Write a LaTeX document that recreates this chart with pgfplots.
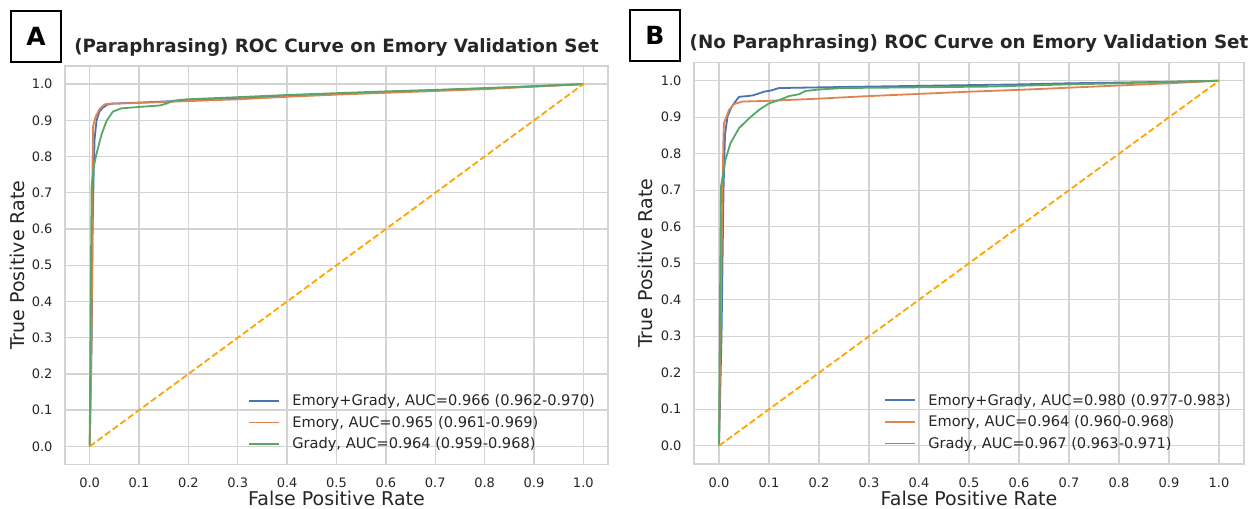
\documentclass[border=0pt]{standalone}
\usepackage{pgfplots}
\pgfplotsset{compat=1.18}
\usepackage{fontspec}
\setmainfont{DejaVu Sans}

\definecolor{sblue}{HTML}{4C72B0}
\definecolor{sorange}{HTML}{DD8452}
\definecolor{sgreen}{HTML}{55A868}
\definecolor{chance}{HTML}{FFA500}
\definecolor{gridc}{HTML}{D3D3D3}
\definecolor{txt}{HTML}{262626}

\pgfplotsset{
  rocax/.style={
    scale only axis,
    xmin=-0.05, xmax=1.05, ymin=-0.05, ymax=1.05,
    xtick={0,0.1,0.2,0.3,0.4,0.5,0.6,0.7,0.8,0.9,1.0},
    ytick={0,0.1,0.2,0.3,0.4,0.5,0.6,0.7,0.8,0.9,1.0},
    xticklabel style={yshift=-10bp, /pgf/number format/.cd, fixed, fixed zerofill, precision=1},
    yticklabel style={xshift=-9bp, /pgf/number format/.cd, fixed, fixed zerofill, precision=1},
    /pgf/number format/assume math mode=true,
    ticklabel style={font=\fontsize{13bp}{16bp}\selectfont, text=txt},
    major tick length=0pt,
    grid=major,
    grid style={gridc, line width=1.4bp},
    axis line style={gridc, line width=1.6bp},
    xlabel={False Positive Rate},
    ylabel={True Positive Rate},
    label style={font=\fontsize{19bp}{22bp}\selectfont, text=txt},
    xlabel style={at={(axis description cs:0.5,0)}, anchor=base, yshift=-41bp},
    ylabel style={at={(axis description cs:-0.088,0.5)}, anchor=center},
    title style={font=\bfseries\fontsize{18.3bp}{22bp}\selectfont, text=txt,
      at={(axis description cs:0.5,1)}, anchor=base, yshift=8bp},
    legend cell align=left,
    legend style={at={(1,0)}, anchor=south east, xshift=-8bp, yshift=10bp,
      draw=none, fill=none, font=\fontsize{14.6bp}{17bp}\selectfont, text=txt,
      row sep=5bp},
    legend image code/.code={\path[draw=none] (0bp,0bp) -- (41bp,0bp);
      \draw[#1] (0bp,0bp) -- (30bp,0bp);},
    every axis plot/.append style={line width=1.8bp},
  }
}

\begin{document}
\begin{tikzpicture}
\useasboundingbox (0,0) rectangle (1255bp,509bp);

% ---------- panel A ----------
\begin{axis}[rocax,
  at={(65bp,44.5bp)}, anchor=south west,
  width=543bp, height=398.5bp,
  title={(Paraphrasing) ROC Curve on Emory Validation Set},
]
\addplot[sblue] coordinates {
  (0,0) (0.004,0.3) (0.006,0.6) (0.008,0.75) (0.010,0.85) (0.014,0.90)
  (0.020,0.925) (0.027,0.935) (0.035,0.943) (0.045,0.946) (0.1,0.949)
  (0.15,0.952) (0.2,0.955) (0.3,0.961) (0.4,0.968) (0.5,0.973) (0.6,0.978)
  (0.7,0.983) (0.8,0.988) (0.9,0.994) (1,1)
};
\addlegendentry{Emory+Grady, AUC=0.966 (0.962-0.970)}
\addplot[sorange] coordinates {
  (0,0) (0.003,0.2) (0.005,0.5) (0.006,0.8) (0.007,0.884) (0.012,0.91)
  (0.02,0.931) (0.03,0.944) (0.04,0.946) (0.1,0.948) (0.196,0.953)
  (0.3,0.958) (0.4,0.965) (0.5,0.971) (0.6,0.976) (0.7,0.981) (0.8,0.986)
  (0.9,0.993) (1,1)
};
\addlegendentry{Emory, AUC=0.965 (0.961-0.969)}
\addplot[sgreen] coordinates {
  (0,0) (0.002,0.4) (0.004,0.72) (0.008,0.77) (0.0135,0.806) (0.024,0.861)
  (0.034,0.898) (0.047,0.924) (0.064,0.933) (0.1,0.937) (0.142,0.941)
  (0.155,0.946) (0.169,0.954) (0.196,0.958) (0.3,0.964) (0.4,0.970)
  (0.5,0.975) (0.6,0.980) (0.7,0.984) (0.8,0.989) (0.9,0.994) (1,1)
};
\addlegendentry{Grady, AUC=0.964 (0.959-0.968)}
\addplot[chance, dash pattern=on 6.5bp off 3bp, forget plot] coordinates {(0,0) (1,1)};
\end{axis}

% ---------- panel B ----------
\begin{axis}[rocax,
  at={(694bp,45bp)}, anchor=south west,
  width=550bp, height=401.5bp,
  title={(No Paraphrasing) ROC Curve on Emory Validation Set},
]
\addplot[sblue] coordinates {
  (0,0) (0.005,0.3) (0.009,0.7) (0.012,0.852) (0.017,0.902) (0.024,0.925)
  (0.03,0.938) (0.04,0.956) (0.057,0.958) (0.068,0.960) (0.077,0.964)
  (0.09,0.97) (0.103,0.973) (0.12,0.98) (0.207,0.982) (0.3,0.984)
  (0.4,0.986) (0.5,0.988) (0.6,0.990) (0.7,0.993) (0.8,0.995) (0.9,0.997) (1,1)
};
\addlegendentry{Emory+Grady, AUC=0.980 (0.977-0.983)}
\addplot[sorange] coordinates {
  (0,0) (0.004,0.4) (0.007,0.71) (0.009,0.85) (0.01,0.884) (0.02,0.92)
  (0.03,0.936) (0.047,0.943) (0.1,0.945) (0.2,0.951) (0.3,0.958)
  (0.4,0.964) (0.5,0.970) (0.6,0.975) (0.7,0.981) (0.8,0.987) (0.9,0.993) (1,1)
};
\addlegendentry{Emory, AUC=0.964 (0.960-0.968)}
\addplot[sgreen] coordinates {
  (0,0) (0.002,0.4) (0.004,0.71) (0.013,0.784) (0.023,0.829) (0.04,0.87)
  (0.06,0.897) (0.08,0.92) (0.1,0.938) (0.12,0.947) (0.14,0.958)
  (0.16,0.963) (0.173,0.972) (0.2,0.976) (0.247,0.98) (0.4,0.982)
  (0.54,0.984) (0.7,0.990) (0.8,0.993) (0.9,0.997) (1,1)
};
\addlegendentry{Grady, AUC=0.967 (0.963-0.971)}
\addplot[chance, dash pattern=on 6.5bp off 3bp, forget plot] coordinates {(0,0) (1,1)};
\end{axis}

% panel letters
\node[draw=black, line width=2bp, minimum width=50bp, minimum height=51bp,
  inner sep=0pt, font=\bfseries\fontsize{25bp}{30bp}\selectfont] at (36bp,472.5bp) {A};
\node[draw=black, line width=2bp, minimum width=50bp, minimum height=51bp,
  inner sep=0pt, font=\bfseries\fontsize{25bp}{30bp}\selectfont] at (655bp,473.5bp) {B};
\end{tikzpicture}
\end{document}
